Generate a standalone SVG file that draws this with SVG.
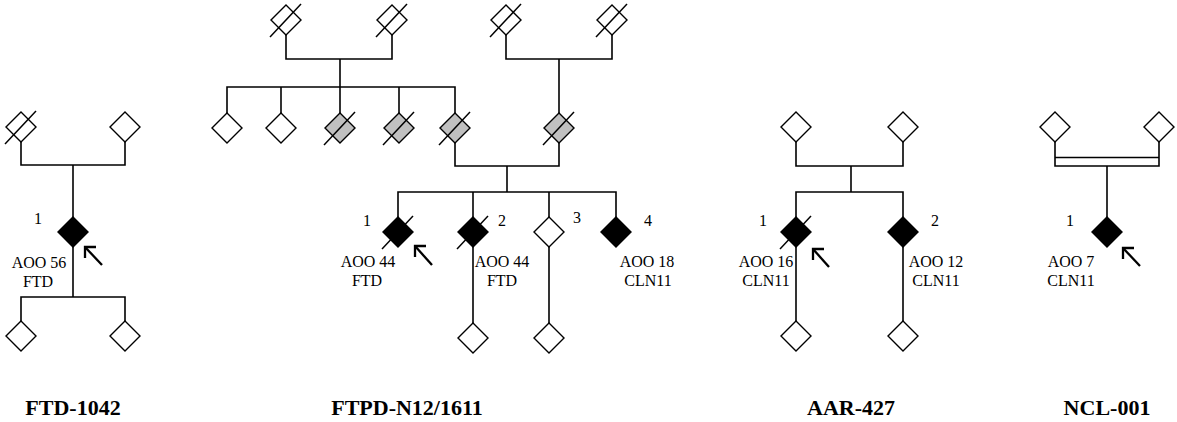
<svg xmlns="http://www.w3.org/2000/svg" width="1177" height="422" viewBox="0 0 1177 422">
<defs>
<style>
.ln{stroke:#000;stroke-width:1.6;fill:none}
.w{fill:#fff;stroke:#000;stroke-width:1.4}
.b{fill:#000;stroke:#000;stroke-width:1.4}
.g{fill:#c0c0c0;stroke:#000;stroke-width:1.4}
.sl{stroke:#000;stroke-width:1.5}
.ar{stroke:#000;stroke-width:2.3;fill:none}
.t{font-family:"Liberation Serif","Times New Roman",serif;font-size:16px;fill:#000;text-anchor:middle}
.h{font-family:"Liberation Serif","Times New Roman",serif;font-size:22px;font-weight:bold;fill:#000;text-anchor:middle}
</style>
<polygon id="dm" points="0,-15 15,0 0,15 -15,0"/>
</defs>
<rect width="1177" height="422" fill="#fff"/>

<g id="connectors" class="ln">
<!-- FTD-1042 -->
<polyline points="21,142 21,165 125,165 125,142"/>
<line x1="73" y1="165" x2="73" y2="217"/>
<line x1="73" y1="247" x2="73" y2="297"/>
<polyline points="21,321 21,297 125,297 125,321"/>
<!-- FTPD-N12/1611 -->
<polyline points="286,35 286,59 392,59 392,35"/>
<polyline points="506,35 506,59 612,59 612,35"/>
<line x1="340" y1="59" x2="340" y2="113"/>
<polyline points="227,113 227,87 455,87 455,113"/>
<line x1="281" y1="87" x2="281" y2="113"/>
<line x1="399" y1="87" x2="399" y2="113"/>
<line x1="559" y1="59" x2="559" y2="113"/>
<polyline points="455,143 455,166 559,166 559,143"/>
<line x1="507" y1="166" x2="507" y2="192"/>
<polyline points="398,217 398,192 616,192 616,217"/>
<line x1="473" y1="192" x2="473" y2="217"/>
<line x1="549" y1="192" x2="549" y2="217"/>
<line x1="473" y1="247" x2="473" y2="323"/>
<line x1="549" y1="247" x2="549" y2="323"/>
<!-- AAR-427 -->
<polyline points="796,142 796,166 903,166 903,142"/>
<line x1="851" y1="166" x2="851" y2="192"/>
<polyline points="796,217 796,192 903,192 903,217"/>
<line x1="796" y1="247" x2="796" y2="321"/>
<line x1="903" y1="247" x2="903" y2="321"/>
<!-- NCL-001 -->
<polyline points="1055,142 1055,166 1159,166 1159,142"/>
<line x1="1055" y1="157.5" x2="1159" y2="157.5"/>
<line x1="1107" y1="166" x2="1107" y2="217"/>
</g>

<!-- FTD-1042 -->
<g id="ftd-f" transform="translate(21,127)"><use href="#dm" class="w"/><line class="sl" x1="-16" y1="17" x2="15" y2="-16"/></g>
<g id="ftd-m" transform="translate(125,127)"><use href="#dm" class="w"/></g>
<g id="ftd-1" transform="translate(73,232)"><use href="#dm" class="b"/>
<polyline class="ar" points="12,15 29,33"/><polyline class="ar" points="12,26 12,15 23,15"/></g>
<text class="t" x="38" y="224">1</text>
<text class="t" x="39" y="268">AOO 56</text>
<text class="t" x="38" y="287">FTD</text>
<g id="ftd-c1" transform="translate(21,336)"><use href="#dm" class="w"/></g>
<g id="ftd-c2" transform="translate(125,336)"><use href="#dm" class="w"/></g>
<text class="h" x="73" y="415">FTD-1042</text>

<!-- FTPD-N12/1611 gen I -->
<g id="fp-i1" transform="translate(286,20)"><use href="#dm" class="w"/><line class="sl" x1="-16" y1="17" x2="15" y2="-16"/></g>
<g id="fp-i2" transform="translate(392,20)"><use href="#dm" class="w"/><line class="sl" x1="-16" y1="17" x2="15" y2="-16"/></g>
<g id="fp-i3" transform="translate(506,20)"><use href="#dm" class="w"/><line class="sl" x1="-16" y1="17" x2="15" y2="-16"/></g>
<g id="fp-i4" transform="translate(612,20)"><use href="#dm" class="w"/><line class="sl" x1="-16" y1="17" x2="15" y2="-16"/></g>
<!-- gen II -->
<g id="fp-ii1" transform="translate(227,128)"><use href="#dm" class="w"/></g>
<g id="fp-ii2" transform="translate(281,128)"><use href="#dm" class="w"/></g>
<g id="fp-ii3" transform="translate(340,128)"><use href="#dm" class="g"/><line class="sl" x1="-16" y1="17" x2="15" y2="-16"/></g>
<g id="fp-ii4" transform="translate(399,128)"><use href="#dm" class="g"/><line class="sl" x1="-16" y1="17" x2="15" y2="-16"/></g>
<g id="fp-ii5" transform="translate(455,128)"><use href="#dm" class="g"/><line class="sl" x1="-16" y1="17" x2="15" y2="-16"/></g>
<g id="fp-ii6" transform="translate(559,128)"><use href="#dm" class="g"/><line class="sl" x1="-16" y1="17" x2="15" y2="-16"/></g>
<!-- gen III -->
<g id="fp-1" transform="translate(398,232)"><use href="#dm" class="b"/><line class="sl" x1="-16" y1="17" x2="15" y2="-16"/>
<polyline class="ar" points="17,14 34,33"/><polyline class="ar" points="17,25 17,14 28,14"/></g>
<text class="t" x="367" y="226">1</text>
<text class="t" x="368" y="267">AOO 44</text>
<text class="t" x="367" y="286">FTD</text>
<g id="fp-2" transform="translate(473,232)"><use href="#dm" class="b"/><line class="sl" x1="-16" y1="17" x2="15" y2="-16"/></g>
<text class="t" x="502" y="226">2</text>
<text class="t" x="502" y="267">AOO 44</text>
<text class="t" x="502" y="286">FTD</text>
<g id="fp-3" transform="translate(549,232)"><use href="#dm" class="w"/></g>
<text class="t" x="577" y="223">3</text>
<g id="fp-4" transform="translate(616,232)"><use href="#dm" class="b"/></g>
<text class="t" x="648" y="226">4</text>
<text class="t" x="647" y="267">AOO 18</text>
<text class="t" x="648" y="286">CLN11</text>
<g id="fp-2c" transform="translate(473,338)"><use href="#dm" class="w"/></g>
<g id="fp-3c" transform="translate(549,338)"><use href="#dm" class="w"/></g>
<text class="h" x="407" y="415">FTPD-N12/1611</text>

<!-- AAR-427 -->
<g id="aar-f" transform="translate(796,127)"><use href="#dm" class="w"/></g>
<g id="aar-m" transform="translate(903,127)"><use href="#dm" class="w"/></g>
<g id="aar-1" transform="translate(796,232)"><use href="#dm" class="b"/><line class="sl" x1="-16" y1="17" x2="15" y2="-16"/>
<polyline class="ar" points="17,17 33,35"/><polyline class="ar" points="17,28 17,17 28,17"/></g>
<text class="t" x="763" y="226">1</text>
<text class="t" x="766" y="267">AOO 16</text>
<text class="t" x="766" y="286">CLN11</text>
<g id="aar-2" transform="translate(903,232)"><use href="#dm" class="b"/></g>
<text class="t" x="935" y="226">2</text>
<text class="t" x="936" y="267">AOO 12</text>
<text class="t" x="936" y="286">CLN11</text>
<g id="aar-1c" transform="translate(796,336)"><use href="#dm" class="w"/></g>
<g id="aar-2c" transform="translate(903,336)"><use href="#dm" class="w"/></g>
<text class="h" x="851" y="415">AAR-427</text>

<!-- NCL-001 -->
<g id="ncl-f" transform="translate(1055,127)"><use href="#dm" class="w"/></g>
<g id="ncl-m" transform="translate(1159,127)"><use href="#dm" class="w"/></g>
<g id="ncl-1" transform="translate(1107,232)"><use href="#dm" class="b"/>
<polyline class="ar" points="16,16 33,34"/><polyline class="ar" points="16,27 16,16 27,16"/></g>
<text class="t" x="1070" y="226">1</text>
<text class="t" x="1071" y="267">AOO 7</text>
<text class="t" x="1071" y="286">CLN11</text>
<text class="h" x="1107" y="415">NCL-001</text>
</svg>
